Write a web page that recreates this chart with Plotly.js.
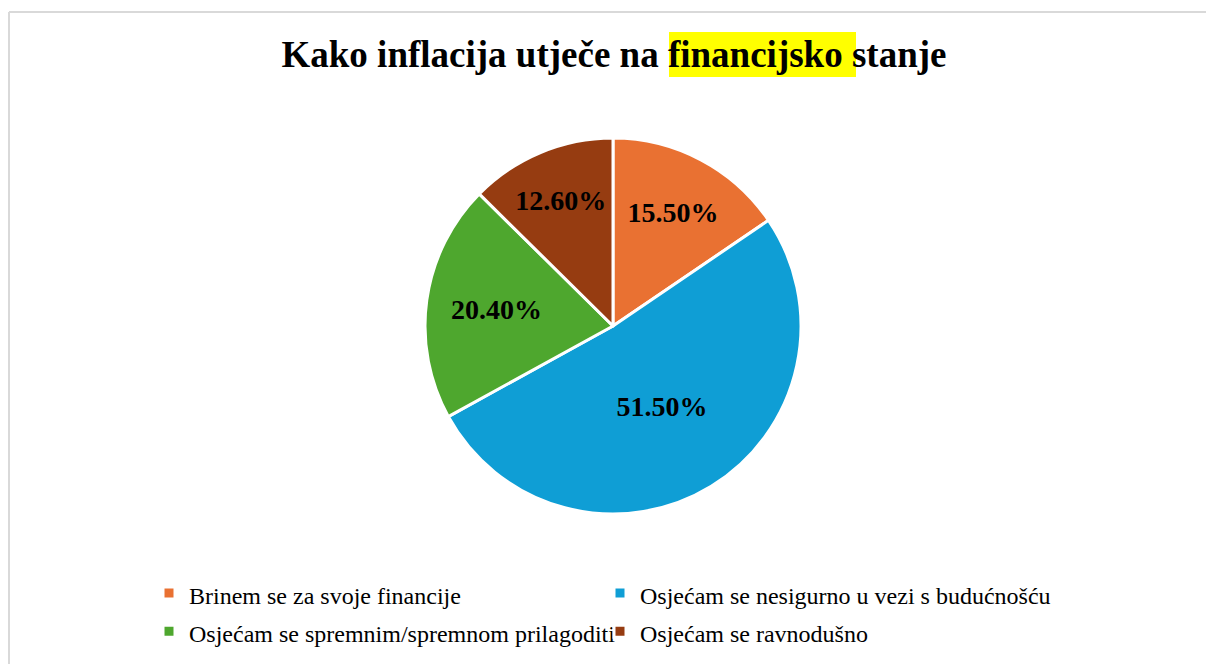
<!DOCTYPE html>
<html>
<head>
<meta charset="utf-8">
<script src="https://cdn.plot.ly/plotly-3.0.1.min.js"></script>
<style>html,body{margin:0;padding:0;background:#fff;}#chart{width:1206px;height:664px;}</style>
</head>
<body>
<div id="chart"></div>
<script>
const categories = [
  "Brinem se za svoje financije",
  "Osjećam se nesigurno u vezi s budućnošću",
  "Osjećam se spremnim/spremnom prilagoditi",
  "Osjećam se ravnodušno"
];
const percentValues = [15.5, 51.5, 20.4, 12.6];
const sliceColors = ["#E97132", "#0F9ED5", "#4EA72E", "#963C11"];

const W = 1206, H = 664;
const displayLabels = categories.map(c =>
  '<span style="font-size:24px">' + c + '</span>');

const trace = {
  type: 'pie',
  labels: displayLabels,
  values: percentValues,
  sort: false,
  direction: 'clockwise',
  rotation: 0,
  marker: {colors: sliceColors, line: {color: '#ffffff', width: 3}},
  texttemplate: '%{value:.2f}%',
  textposition: 'inside',
  insidetextorientation: 'horizontal',
  insidetextfont: {family: 'Liberation Serif', size: 28, color: '#000000', weight: 'bold'},
  domain: {x: [425/W, 801/W], y: [1 - 514/H, 1 - 138/H]},
  hoverinfo: 'none'
};

const layout = {
  width: W, height: H,
  margin: {l: 0, r: 0, t: 0, b: 0},
  paper_bgcolor: '#ffffff',
  font: {family: 'Liberation Serif'},
  title: {
    text: '<b>Kako inflacija utječe na financijsko stanje</b>',
    font: {family: 'Liberation Serif', size: 37, color: '#000000'},
    x: 614/W, xanchor: 'center', xref: 'paper',
    y: 1 - 54/H, yanchor: 'middle', yref: 'paper'
  },
  showlegend: true,
  legend: {
    orientation: 'h',
    x: 149/W, xanchor: 'left',
    y: 1 - 569/H, yanchor: 'top',
    entrywidth: 406, entrywidthmode: 'pixels',
    font: {family: 'Liberation Serif', size: 27, color: '#000000'},
    traceorder: 'normal'
  },
  shapes: [
    {type: 'rect', xref: 'paper', yref: 'paper', x0: 669/W, x1: 856/W, y0: 1 - 77/H, y1: 1 - 32/H,
     fillcolor: '#FFFF00', line: {width: 0}, layer: 'below'},
    {type: 'line', xref: 'paper', yref: 'paper', x0: 9/W, x1: 1.01, y0: 1 - 12/H, y1: 1 - 12/H,
     line: {color: '#D9D9D9', width: 2}},
    {type: 'line', xref: 'paper', yref: 'paper', x0: 9/W, x1: 9/W, y0: 1 - 12/H, y1: -0.01,
     line: {color: '#D9D9D9', width: 2}}
  ]
};

Plotly.newPlot('chart', [trace], layout, {displayModeBar: false, staticPlot: true});
</script>
</body>
</html>
